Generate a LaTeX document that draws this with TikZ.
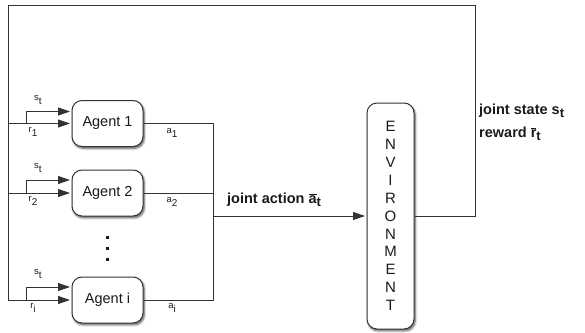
\documentclass[tikz,border=0pt]{standalone}
\usepackage{fontspec}
\setmainfont{Liberation Sans}
\usetikzlibrary{shadows.blur,arrows.meta}
\definecolor{ln}{HTML}{333333}
\definecolor{tx}{HTML}{1A1A1A}
\newcommand\lsub[1]{\raisebox{-0.45ex}{\scalebox{0.9}{#1}}}
\newcommand\ssub[1]{\raisebox{-0.7ex}{\scalebox{1.05}{#1}}}
\newcommand\ovl[1]{$\overline{\mbox{#1}}$}
\begin{document}
\begin{tikzpicture}[x=1pt,y=-1pt,
  wire/.style={draw=ln, line width=0.9pt},
  tip/.style={-{Triangle[length=12pt,width=8pt]}, shorten >=1.5pt},
  boxshadow/.style={blur shadow={shadow xshift=1.2pt, shadow yshift=-1.8pt, shadow blur steps=6, shadow blur radius=2.2pt, shadow opacity=70}},
  agent/.style={draw=ln, line width=1pt, rounded corners=10pt, fill=white, minimum width=71pt, minimum height=46pt, inner sep=0pt, boxshadow, text=tx, font=\fontsize{14.5}{17}\selectfont},
  env/.style={draw=ln, line width=1pt, rounded corners=10pt, fill=white, minimum width=47pt, minimum height=226pt, inner sep=0pt, boxshadow, text=tx, align=center, font=\fontsize{15}{17.9}\selectfont},
  lab/.style={text=tx, inner sep=0pt, font=\fontsize{9.5}{12}\selectfont},
  big/.style={text=tx, inner sep=0pt, anchor=base west, font=\bfseries\fontsize{14.5}{17}\selectfont}
]
\useasboundingbox (0,0) rectangle (585,332);

% nodes
\node[agent] (A1) at (107.5,123.5) {Agent 1};
\node[agent] (A2) at (107.5,193) {Agent 2};
\node[agent] (Ai) at (107.5,300) {Agent i};
\node[env] (E) at (390.5,216) {E\\N\\V\\I\\R\\O\\N\\M\\E\\N\\T};

% coordinates
\coordinate (TL) at (8,5);
\coordinate (TR) at (475,5);
\coordinate (B1) at (8,123.5);
\coordinate (B2) at (8,193);
\coordinate (Bi) at (8,300);
\coordinate (S1) at (26,123.5);
\coordinate (S2) at (26,193);
\coordinate (Si) at (26,300);
\coordinate (K1) at (213,123.5);
\coordinate (Ki) at (213,300);
\coordinate (K) at (213,216);

% feedback loop
\draw[wire] (E.east) -| (TR) -- (TL) -- (Bi);
\draw[wire,tip] (Bi) -- (Ai.west);
\draw[wire,tip] (B1) -- (A1.west);
\draw[wire,tip] (B2) -- (A2.west);
\draw[wire,tip] (S1) |- ([yshift=12pt]A1.west);
\draw[wire,tip] (S2) |- ([yshift=13pt]A2.west);
\draw[wire,tip] (Si) |- ([yshift=13pt]Ai.west);

% actions
\draw[wire] (A1.east) -- (K1) -- (Ki) -- (Ai.east);
\draw[wire] (A2.east) -- (A2.east -| K1);
\draw[wire,tip] (K) -- (E.west);

% small labels
\node[lab] (ls1) at (38,100) {s\ssub{t}};
\node[lab] (lr1) at (33,132) {r\ssub{1}};
\node[lab] (ls2) at (38,168) {s\ssub{t}};
\node[lab] (lr2) at (33,201) {r\ssub{2}};
\node[lab] (lsi) at (38,274) {s\ssub{t}};
\node[lab] (lri) at (33,308) {r\ssub{i}};
\node[lab] (la1) at (172,133) {a\ssub{1}};
\node[lab] (la2) at (172,202) {a\ssub{2}};
\node[lab] (lai) at (172,308) {a\ssub{i}};

% vertical dots
\fill[tx] (105.5,235.5) rectangle +(3,3);
\fill[tx] (105.5,246.5) rectangle +(3,3);
\fill[tx] (105.5,257.5) rectangle +(3,3);

% big labels
\node[big] (ja) at (227,203) {joint action \ovl{a}\lsub{t}};
\node[big] (js) at (479,114) {joint state s\lsub{t}};
\node[big] (rw) at (479,137) {reward \ovl{r}\lsub{t}};
\end{tikzpicture}
\end{document}
